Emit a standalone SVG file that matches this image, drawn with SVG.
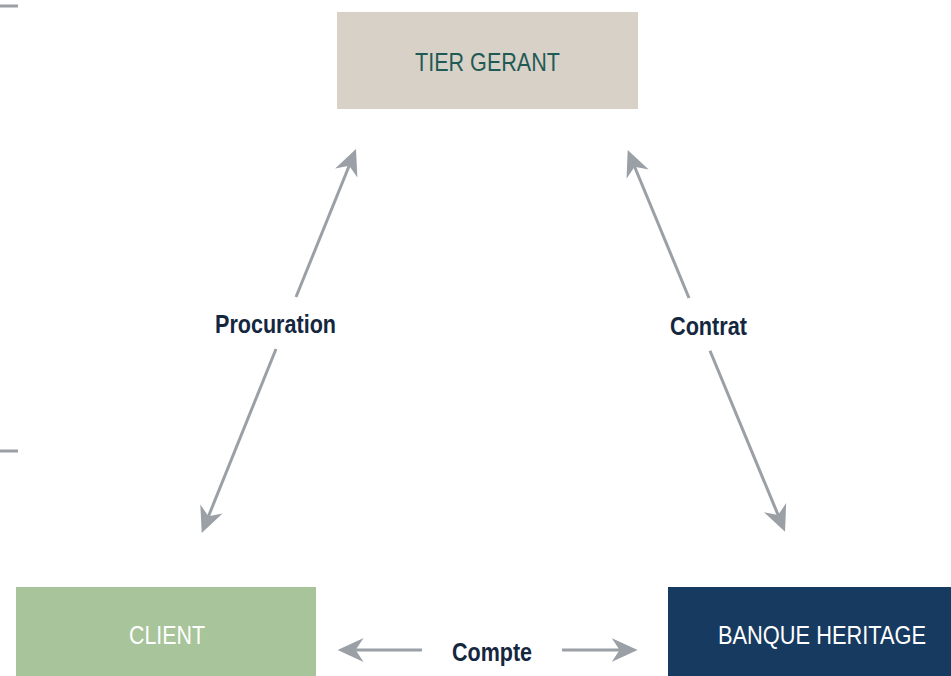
<svg xmlns="http://www.w3.org/2000/svg" width="951" height="676" viewBox="0 0 951 676">
<style>
.lbl{font-family:"Liberation Sans",Arial,sans-serif;font-size:26px;font-weight:bold;fill:#14273f}
.nt{font-family:"Liberation Sans",Arial,sans-serif;font-size:26px}
.conn{stroke:#9aa0a6;stroke-width:3;fill:none;marker-end:url(#ah)}
</style>
<defs>
<marker id="ah" viewBox="0 0 30 30" markerWidth="30" markerHeight="30" refX="10" refY="15" orient="auto" markerUnits="userSpaceOnUse">
<path d="M26,15 L0,3 L8,15 L0,27 Z" fill="#9aa0a6"/>
</marker>
</defs>
<rect x="0" y="4.5" width="18" height="3" fill="#9ba0a5"/>
<rect x="0" y="449.5" width="18" height="3" fill="#9ba0a5"/>
<g id="tier">
<rect x="337" y="12" width="301" height="97" fill="#d8d1c7"/>
<text class="nt" x="415" y="71" textLength="145" lengthAdjust="spacingAndGlyphs" fill="#1f5a55">TIER GERANT</text>
</g>
<g id="client">
<rect x="16" y="587" width="300" height="89" fill="#a8c49a"/>
<text class="nt" x="129" y="644" textLength="76" lengthAdjust="spacingAndGlyphs" fill="#ffffff">CLIENT</text>
</g>
<g id="banque">
<rect x="668" y="587" width="283" height="89" fill="#173a60"/>
<text class="nt" x="718" y="644" textLength="208" lengthAdjust="spacingAndGlyphs" fill="#ffffff">BANQUE HERITAGE</text>
</g>
<g id="connectors">
<line class="conn" x1="296" y1="297" x2="350" y2="163.8"/>
<line class="conn" x1="276" y1="349" x2="207.7" y2="518.2"/>
<line class="conn" x1="689" y1="298" x2="633.8" y2="164.8"/>
<line class="conn" x1="710" y1="350.7" x2="778.9" y2="516.9"/>
<line class="conn" x1="422" y1="650" x2="353.6" y2="650"/>
<line class="conn" x1="562" y1="650" x2="621.6" y2="650"/>
<text class="lbl" x="215" y="333" textLength="121" lengthAdjust="spacingAndGlyphs">Procuration</text>
<text class="lbl" x="670" y="335" textLength="77" lengthAdjust="spacingAndGlyphs">Contrat</text>
<text class="lbl" x="452" y="661" textLength="80" lengthAdjust="spacingAndGlyphs">Compte</text>
</g>
</svg>
